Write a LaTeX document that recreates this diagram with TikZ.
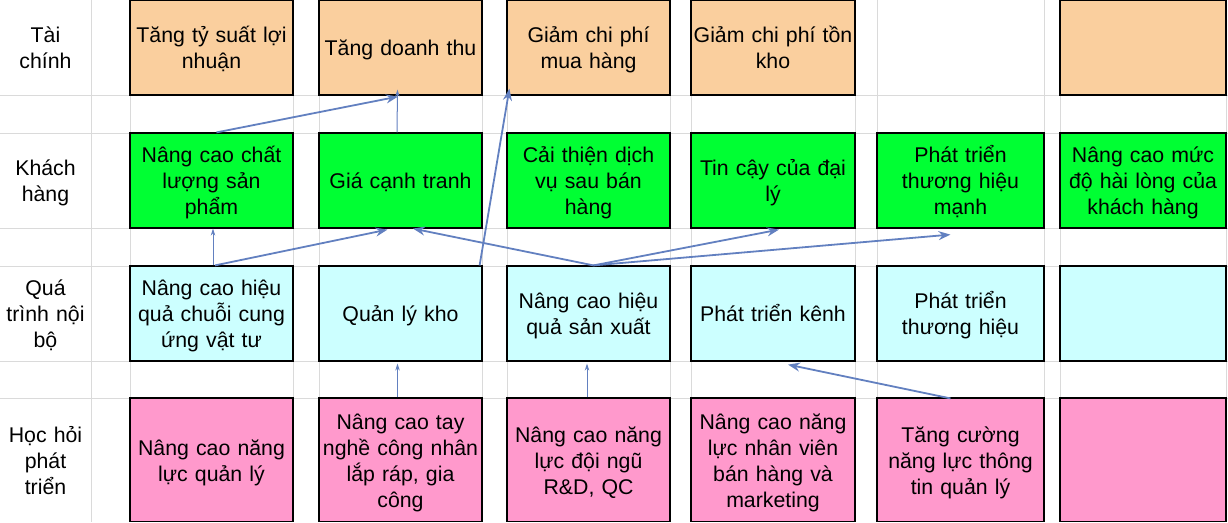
\documentclass[tikz,border=0pt]{standalone}
\usepackage{fontspec}
\setmainfont{Liberation Sans}
\usetikzlibrary{arrows.meta}
\definecolor{peach}{RGB}{250,207,158}
\definecolor{leaf}{RGB}{0,255,51}
\definecolor{ice}{RGB}{204,255,255}
\definecolor{rose}{RGB}{255,153,204}
\definecolor{linkblue}{RGB}{98,128,192}
\definecolor{gridgray}{RGB}{218,218,218}
\begin{document}
\begin{tikzpicture}[x=1pt,y=-1pt,
    every node/.style={font=\fontsize{21.3}{26}\selectfont, align=center, inner sep=0pt, text width=160pt,
      execute at begin node={\rule{0pt}{22pt}}, execute at end node={\rule[-5.7pt]{0pt}{5.7pt}}},
    lab/.style={text width=88pt},
    box/.style 2 args={draw, line width=1.2pt, minimum width=#1, minimum height=#2},
    flow/.style={draw=linkblue, line width=1.8pt, -{Stealth[length=12pt,width=9pt,inset=4pt]}},
    flowthin/.style={draw=linkblue, line width=1pt, -{Stealth[length=7pt,width=4.5pt]}}]
  \useasboundingbox (0,0) rectangle (1228,522);
  \clip (0,-2) rectangle (1228,521.4);
  \foreach \x in {91,130,293,319,482,507,670,691,855,877,1044,1060,1226}
    \draw[gridgray, line width=1pt] (\x,0) -- (\x,522);
  \foreach \y in {95,133,228,266,361,398}
    \draw[gridgray, line width=1pt] (0,\y) -- (1228,\y);

  \node[lab] (lt) at (45.5,47.5) {Tài\\chính};
  \node[lab] (lk) at (45.5,180.5) {Khách\\hàng};
  \node[lab] (lq) at (45.5,313.5) {Quá\\trình nội\\bộ};
  \node[lab] (lh) at (45.5,460) {Học hỏi\\phát\\triển};

  \node[box={163pt}{95pt}, fill=peach] (t1) at (211.5,47.5) {Tăng tỷ suất lợi\\nhuận};
  \node[box={163pt}{95pt}, fill=peach] (t2) at (400.5,47.5) {Tăng doanh thu};
  \node[box={163pt}{95pt}, fill=peach] (t3) at (588.5,47.5) {Giảm chi phí\\mua hàng};
  \node[box={164pt}{95pt}, fill=peach] (t4) at (773,47.5) {Giảm chi phí tồn\\kho};
  \node[box={166pt}{95pt}, fill=peach] (t6) at (1143,47.5) {};

  \node[box={163pt}{95pt}, fill=leaf] (k1) at (211.5,180.5) {Nâng cao chất\\lượng sản\\phẩm};
  \node[box={163pt}{95pt}, fill=leaf] (k2) at (400.5,180.5) {Giá cạnh tranh};
  \node[box={163pt}{95pt}, fill=leaf] (k3) at (588.5,180.5) {Cải thiện dịch\\vụ sau bán\\hàng};
  \node[box={164pt}{95pt}, fill=leaf] (k4) at (773,180.5) {Tin cậy của đại\\lý};
  \node[box={167pt}{95pt}, fill=leaf] (k5) at (960.5,180.5) {Phát triển\\thương hiệu\\mạnh};
  \node[box={166pt}{95pt}, fill=leaf] (k6) at (1143,180.5) {Nâng cao mức\\độ hài lòng của\\khách hàng};

  \node[box={163pt}{95pt}, fill=ice] (q1) at (211.5,313.5) {Nâng cao hiệu\\quả chuỗi cung\\ứng vật tư};
  \node[box={163pt}{95pt}, fill=ice] (q2) at (400.5,313.5) {Quản lý kho};
  \node[box={163pt}{95pt}, fill=ice] (q3) at (588.5,313.5) {Nâng cao hiệu\\quả sản xuất};
  \node[box={164pt}{95pt}, fill=ice] (q4) at (773,313.5) {Phát triển kênh};
  \node[box={167pt}{95pt}, fill=ice] (q5) at (960.5,313.5) {Phát triển\\thương hiệu};
  \node[box={166pt}{95pt}, fill=ice] (q6) at (1143,313.5) {};

  \node[box={163pt}{124pt}, fill=rose] (h1) at (211.5,460) {Nâng cao năng\\lực quản lý};
  \node[box={163pt}{124pt}, fill=rose] (h2) at (400.5,460) {Nâng cao tay\\nghề công nhân\\lắp ráp, gia\\công};
  \node[box={163pt}{124pt}, fill=rose] (h3) at (588.5,460) {Nâng cao năng\\lực đội ngũ\\R\&D, QC};
  \node[box={164pt}{124pt}, fill=rose] (h4) at (773,460) {Nâng cao năng\\lực nhân viên\\bán hàng và\\marketing};
  \node[box={167pt}{124pt}, fill=rose] (h5) at (960.5,460) {Tăng cường\\năng lực thông\\tin quản lý};
  \node[box={166pt}{124pt}, fill=rose] (h6) at (1143,460) {};

  \draw[flow] ([xshift=5pt]k1.north) -- ([xshift=-2.5pt,yshift=-1pt]t2.south);
  \draw[flowthin] ([xshift=-3.5pt]k2.north) -- ([xshift=-3pt,yshift=6pt]t2.south);
  \draw[flowthin] ([xshift=1.5pt]q1.north) -- ([xshift=1.5pt]k1.south);
  \draw[flow] ([xshift=3.5pt]q1.north) -- ([xshift=-13pt,yshift=-1pt]k2.south);
  \draw[flow] ([xshift=-3pt]q2.north east) -- ([xshift=3pt,yshift=7pt]t3.south west);
  \draw[flow] ([xshift=5pt]q3.north) -- ([xshift=12.5pt]k2.south);
  \draw[flow] ([xshift=5pt]q3.north) -- ([xshift=6pt,yshift=-1pt]k4.south);
  \draw[flow] ([xshift=5pt]q3.north) -- ([xshift=-10pt,yshift=-6pt]k5.south);
  \draw[flow] ([xshift=-10pt,yshift=-1pt]h5.north) -- ([xshift=15pt,yshift=-3pt]q4.south);
  \draw[flowthin] ([xshift=-3pt]h2.north) -- ([xshift=-3pt,yshift=-2pt]q2.south);
  \draw[flowthin] ([xshift=-1.5pt]h3.north) -- ([xshift=-1.5pt,yshift=-2pt]q3.south);
\end{tikzpicture}
\end{document}
